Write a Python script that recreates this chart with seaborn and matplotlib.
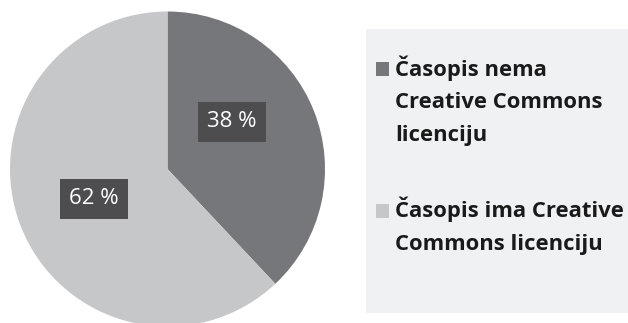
import matplotlib
matplotlib.use("Agg")
import matplotlib.pyplot as plt
import seaborn as sns
from matplotlib.patches import Rectangle

sns.set_theme(style="white")
plt.rcParams['font.family'] = ['Open Sans', 'DejaVu Sans']

categories = [["Časopis nema", "Creative Commons", "licenciju"],
              ["Časopis ima Creative", "Commons licenciju"]]
values = [38, 62]
labels = ["38 %", "62 %"]
colors = ["#76777b", "#c6c7c9"]

W, H = 628, 323
fig = plt.figure(figsize=(W / 100, H / 100), dpi=100)
fig.patch.set_facecolor("white")

def fx(px):
    return px / W

def fy(py):
    return (H - py) / H

# legend background panel
fig.patches.append(Rectangle((fx(366), fy(313)), (W - 366) / W, (313 - 29) / H,
                             transform=fig.transFigure, facecolor="#f0f1f3",
                             edgecolor="none", zorder=0))

cx, cy, r = 167.5, 169, 157.5
ax = fig.add_axes([(cx - r) / W, (H - cy - r) / H, 2 * r / W, 2 * r / H])
wedges, _ = ax.pie(values, colors=colors, startangle=90, counterclock=False,
                   radius=1, wedgeprops=dict(linewidth=0))
ax.set_xlim(-1, 1)
ax.set_ylim(-1, 1)
ax.set_aspect("equal")
ax.axis("off")

label_pos = [(0.41, 0.30), (-0.467, -0.19)]
for (x, y), lab in zip(label_pos, labels):
    ax.text(x, y, lab, ha="center", va="center", color="white", fontsize=16,
            family=['Open Sans', 'DejaVu Sans'],
            bbox=dict(boxstyle="square,pad=0.42", facecolor="#4d4d4f", edgecolor="none"))

# legend entries
entry_baselines = [76, 217.5]
line_step = 32.5
for lines, col, b0 in zip(categories, colors, entry_baselines):
    fig.patches.append(Rectangle((fx(376), fy(b0)), 13 / W, 14 / H,
                                 transform=fig.transFigure, facecolor=col,
                                 edgecolor="none", zorder=2))
    for i, line in enumerate(lines):
        fig.text(fx(395), fy(b0 + i * line_step), line, ha="left", va="baseline",
                 fontsize=15.8, fontweight="bold", color="#1a1a1a",
                 family=['Open Sans', 'DejaVu Sans'])

fig.savefig("out.png", dpi=100)
